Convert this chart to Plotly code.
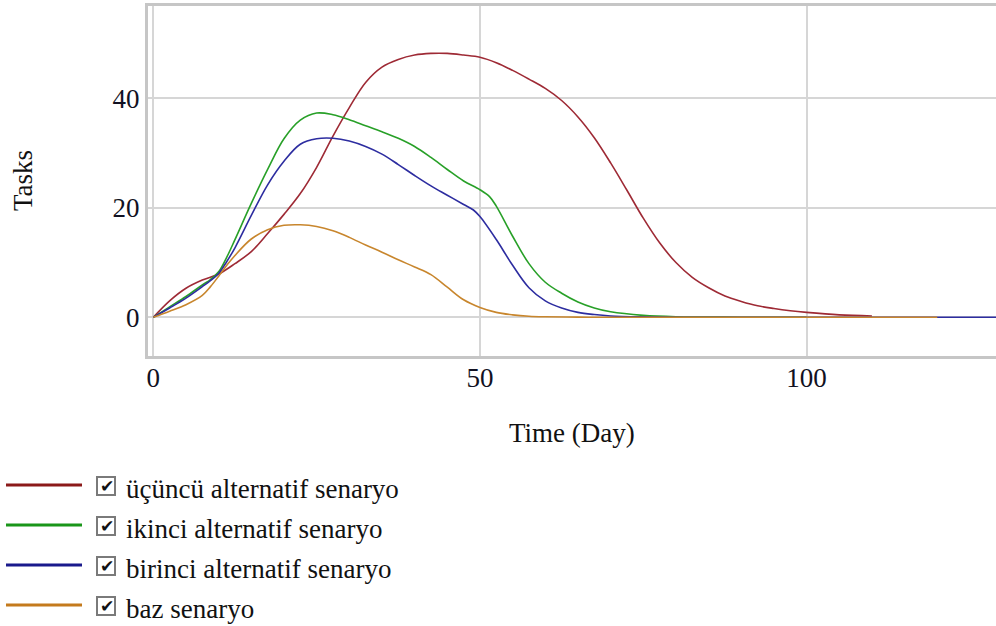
import plotly.graph_objects as go

# ---- data ----
t_red = [0, 2.5, 5, 7.5, 10, 12.5, 15, 17.5, 20, 22.5, 25, 27.5, 30, 32.5, 35, 37.5, 40, 42.5, 45,
         47.5, 50, 52.5, 55, 57.5, 60, 62.5, 65, 67.5, 70, 72.5, 75, 77.5, 80, 82.5, 85, 87.5, 90,
         92.5, 95, 97.5, 100, 105, 110]
v_red = [0, 3.0, 5.3, 6.8, 7.9, 9.8, 12.0, 15.3, 18.8, 22.6, 27.4, 33.1, 38.3, 42.9, 45.7, 47.1, 47.9,
         48.2, 48.2, 47.9, 47.5, 46.5, 45.1, 43.5, 41.8, 39.6, 36.6, 32.8, 28.2, 23.2, 18.1, 13.6,
         10.0, 7.3, 5.4, 3.9, 2.9, 2.1, 1.6, 1.2, 0.9, 0.45, 0.25]

t_green = [0, 2.5, 5, 7.5, 8.75, 10, 11.25, 12.5, 15, 17.5, 20, 22.5, 25, 27.5, 30, 32.5, 35, 37.5,
           40, 42.5, 45, 47.5, 50, 51.5, 52.5, 55, 57.5, 60, 62.5, 65, 67.5, 70, 75, 80, 90, 100]
v_green = [0, 1.9, 3.8, 5.9, 6.9, 8.3, 11.0, 14.2, 20.8, 27.0, 32.6, 36.0, 37.3, 37.0, 36.1, 35.0,
           33.9, 32.7, 31.2, 29.2, 27.0, 24.9, 23.3, 22.0, 20.3, 14.8, 9.8, 6.4, 4.4, 2.8, 1.7, 1.0,
           0.35, 0.1, 0.02, 0]

t_blue = [0, 2.5, 5, 7.5, 8.75, 10, 11.25, 12.5, 15, 17.5, 20, 22.5, 25, 27.5, 30, 32.5, 35, 37.5,
          40, 42.5, 45, 47.5, 49, 50, 52.5, 55, 57.5, 60, 62.5, 65, 67.5, 70, 75, 80, 90, 110, 130]
v_blue = [0, 1.7, 3.5, 5.6, 6.7, 8.0, 10.2, 12.7, 18.6, 24.2, 28.5, 31.6, 32.6, 32.7, 32.2, 31.2,
          29.8, 27.9, 25.9, 24.0, 22.3, 20.6, 19.6, 18.4, 14.2, 9.5, 5.4, 3.0, 1.7, 0.9, 0.5, 0.25,
          0.08, 0.02, 0, 0, 0]

t_orange = [0, 2.5, 5, 7.5, 8.75, 10, 11.25, 12.5, 15, 17.5, 20, 22.5, 25, 27.5, 30, 32.5, 35, 37.5,
            40, 42.5, 45, 47.5, 50, 52.5, 55, 57.5, 60, 65, 70, 90, 120]
v_orange = [0, 1.1, 2.3, 4.0, 5.6, 7.5, 9.5, 11.3, 14.3, 16.0, 16.8, 16.9, 16.6, 15.8, 14.6, 13.2,
            11.9, 10.5, 9.2, 7.8, 5.5, 3.2, 1.8, 0.9, 0.45, 0.2, 0.1, 0.03, 0.01, 0, 0]

names = ["üçüncü alternatif senaryo", "ikinci alternatif senaryo",
         "birinci alternatif senaryo", "baz senaryo"]
curve_colors = ["#9e2a35", "#28a028", "#2d2da0", "#c8862d"]
legend_colors = ["#8b1a1a", "#1a961a", "#1a1a8c", "#c47a1c"]

x_ticks = [0, 50, 100]
y_ticks = [0, 20, 40]
x_title = "Time (Day)"
y_title = "Tasks"

FONT = "Liberation Serif, Times New Roman, Tinos, DejaVu Serif, serif"
FS = 27

fig = go.Figure()
series = [(t_red, v_red), (t_green, v_green), (t_blue, v_blue), (t_orange, v_orange)]
for (tx, vy), nm, col in zip(series, names, curve_colors):
    fig.add_trace(go.Scatter(x=tx, y=vy, mode="lines", name=nm,
                             line=dict(color=col, width=1.6, shape="spline", smoothing=1.0),
                             showlegend=False, hoverinfo="skip"))

# plot-area geometry in pixels
L, R, T, B = 148, 0, 6, 270
W, H = 996, 626
PW, PH = W - L - R, H - T - B


def xp(px):
    return (px - L) / PW


def yp(py):
    return (H - B - py) / PH


shapes = []
annotations = []
row_y = [485, 525, 565, 605]
for i, (nm, col) in enumerate(zip(names, legend_colors)):
    y = row_y[i]
    shapes.append(dict(type="line", xref="paper", yref="paper",
                       x0=xp(6), x1=xp(82), y0=yp(y), y1=yp(y),
                       line=dict(color=col, width=3)))
    shapes.append(dict(type="rect", xref="paper", yref="paper",
                       x0=xp(97), x1=xp(115), y0=yp(y + 10), y1=yp(y - 8),
                       line=dict(color="#7a7a7a", width=2), fillcolor="white"))
    annotations.append(dict(text="✔", xref="paper", yref="paper", x=xp(106.5), y=yp(y + 1),
                            xanchor="center", yanchor="middle", showarrow=False,
                            font=dict(family="DejaVu Sans", size=17, color="#111111")))
    annotations.append(dict(text=nm, xref="paper", yref="paper", x=xp(124), y=yp(y + 4),
                            xanchor="left", yanchor="middle", showarrow=False,
                            font=dict(family=FONT, size=FS, color="#111111")))

annotations.append(dict(text=x_title, xref="paper", yref="paper", x=xp(572), y=yp(433),
                        xanchor="center", yanchor="middle", showarrow=False,
                        font=dict(family=FONT, size=FS, color="#111111")))
annotations.append(dict(text=y_title, xref="paper", yref="paper", x=xp(23), y=yp(180),
                        xanchor="center", yanchor="middle", showarrow=False, textangle=-90,
                        font=dict(family=FONT, size=FS, color="#111111")))

x0_px, x_scale = 153.3, 6.533
y0_px, y_scale = 317.3, 5.475
xr = [(L - x0_px) / x_scale, (W - R - x0_px) / x_scale]
yr = [-(H - B - y0_px) / y_scale, (y0_px - T) / y_scale]

fig.update_layout(
    width=W, height=H,
    margin=dict(l=L, r=R, t=T, b=B, pad=0),
    paper_bgcolor="white", plot_bgcolor="white",
    showlegend=False,
    shapes=shapes, annotations=annotations,
    xaxis=dict(range=xr, tickvals=x_ticks, ticktext=[str(v) for v in x_ticks],
               showgrid=True, gridcolor="#d6d6d6", gridwidth=2, zeroline=False,
               showline=True, linecolor="#c6c6c6", linewidth=3, mirror=True,
               ticks="", ticklabelstandoff=-4,
               tickfont=dict(family=FONT, size=FS, color="#111122"), fixedrange=True),
    yaxis=dict(range=yr, tickvals=y_ticks, ticktext=[str(v) for v in y_ticks],
               showgrid=True, gridcolor="#d6d6d6", gridwidth=2, zeroline=False,
               showline=True, linecolor="#c6c6c6", linewidth=3, mirror=False,
               ticks="", ticklabelstandoff=0,
               tickfont=dict(family=FONT, size=FS, color="#111122"), fixedrange=True),
)

fig.write_html("out.html")
